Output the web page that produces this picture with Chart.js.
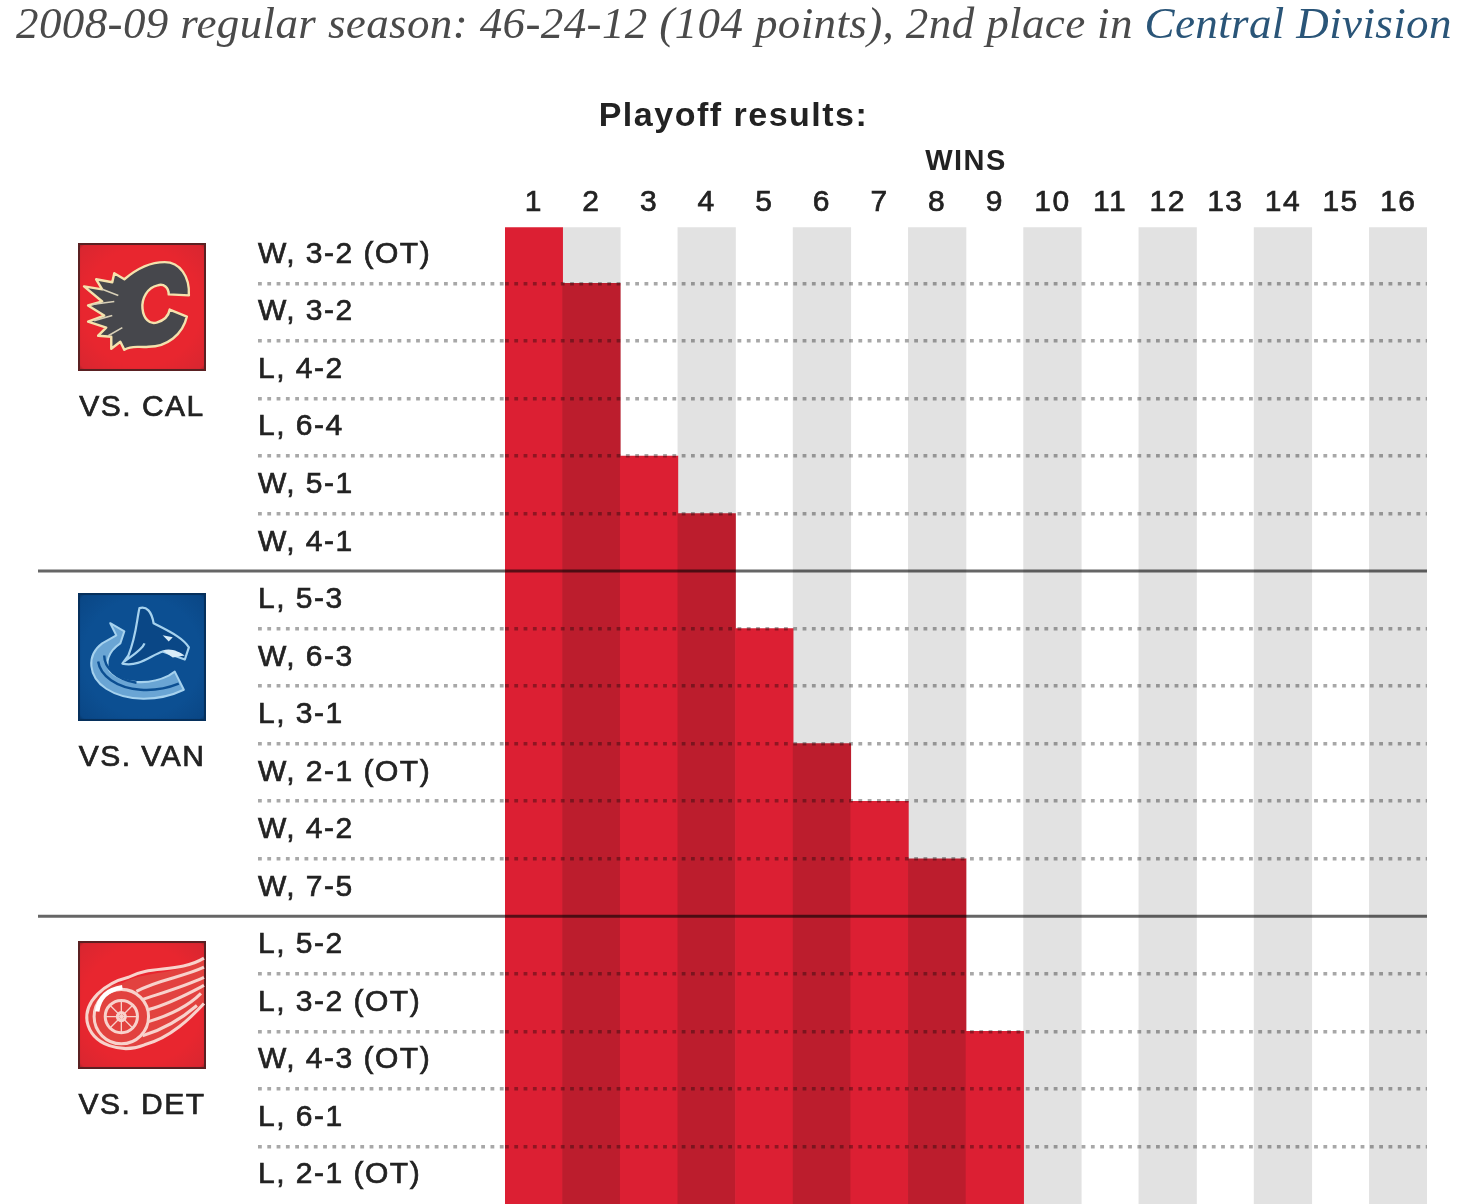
<!DOCTYPE html>
<html><head><meta charset="utf-8">
<script src="https://cdn.jsdelivr.net/npm/chart.js@4"></script>
<style>
html,body{margin:0;padding:0;background:#fff;width:1460px;height:1204px;overflow:hidden}
#wrap{position:relative;width:1460px;height:1204px;overflow:hidden}
canvas{position:absolute;left:0;top:0}
#head{position:absolute;left:16px;top:-3px;white-space:nowrap;font:italic 45px "Liberation Serif",serif;color:#4a4a4a;letter-spacing:.38px;line-height:52px}
#head span{color:#2a5578}
.vs{position:absolute;left:42px;width:200px;text-align:center;font:30px "Liberation Sans",Arial,sans-serif;color:#222;letter-spacing:1.5px;line-height:34px;-webkit-text-stroke:.7px #222}
svg.logo{position:absolute;left:78px;width:128px;height:128px;filter:blur(.6px)}
</style></head>
<body><div id="wrap">
<canvas id="c" width="1460" height="1204"></canvas>
<div id="head">2008-09 regular season: 46-24-12 (104 points), 2nd place in <span>Central Division</span></div>

<svg class="logo" style="top:243px" viewBox="0 0 127 127">
<defs><radialGradient id="gr" cx=".5" cy=".5" r=".72"><stop offset=".65" stop-color="#e8262f"/><stop offset=".93" stop-color="#d92630"/><stop offset="1" stop-color="#8c1c20"/></radialGradient>
<radialGradient id="gb" cx=".5" cy=".5" r=".72"><stop offset=".65" stop-color="#0c4f92"/><stop offset=".93" stop-color="#0a4786"/><stop offset="1" stop-color="#062c55"/></radialGradient></defs>
<rect x="1" y="1" width="125" height="125" fill="url(#gr)" stroke="#5a2022" stroke-width="2"/>
<path d="M46 36C60 24 74 19 86 19C101 19 111 33 110 52L90 51C90 44 85 40 79 42C69 44 63 55 64 65C65 75 71 81 78 79C85 77 90 72 91 66L108 73C104 91 88 103 70 103C60 104 54 101 46 106L42 98L33 105L33 93L20 92L28 84L10 78L26 72L10 62L24 58L6 43L24 46L18 36L34 39L36 30Z" fill="#46474c" stroke="#f4e2ad" stroke-width="2.4" stroke-linejoin="round"/>
<path d="M14 61L36 58M16 77L34 72M24 46L40 52M30 92L44 84" stroke="#d8d0b8" stroke-width="1.6" fill="none"/>
</svg>

<svg class="logo" style="top:593px" viewBox="0 0 127 127">
<rect x="1" y="1" width="125" height="125" fill="url(#gb)" stroke="#06305c" stroke-width="2"/>
<path d="M32 30L46 38L42 50C30 58 26 70 32 78C44 90 70 92 90 82L96 78L105 96C80 108 48 108 28 95C10 83 8 62 24 50L38 42Z" fill="#6aa5d4" stroke="#a6d2ee" stroke-width="2" stroke-linejoin="round"/>
<path d="M20 68C22 82 38 94 62 96C76 97 90 94 100 90M26 62C26 74 38 86 58 89" fill="none" stroke="#0c4f92" stroke-width="2.4"/>
<path d="M46 68C54 62 64 56 66 50M50 62C58 42 58 28 61 15C68 13 73 18 75 30C90 38 104 44 110 54L106 66L84 58C72 62 60 74 44 70Z" fill="#0a4786" stroke="#a6d2ee" stroke-width="2.2" stroke-linejoin="round"/>
<path d="M84 42L94 44L90 48ZM84 57C92 54 100 58 106 62L94 64Z" fill="#d8ecf8"/>
</svg>

<svg class="logo" style="top:941px" viewBox="0 0 127 127">
<rect x="1" y="1" width="125" height="125" fill="url(#gr)" stroke="#5a2022" stroke-width="2"/>
<path d="M44 42C62 30 96 34 125 18V62C112 74 92 98 62 104C40 112 12 100 10 76C10 56 26 44 44 42Z" fill="#e2423f"/>
<g fill="none" stroke="#f8d2cc" stroke-width="3">
<path d="M125 17C100 32 72 24 50 36C26 42 6 60 9 80C14 104 44 112 66 103C92 96 112 76 125 62"/>
<circle cx="43" cy="75" r="27"/><circle cx="43" cy="75" r="16"/><circle cx="43" cy="75" r="4"/>
<path d="M58 50C80 38 104 36 125 26M64 58C88 50 108 44 125 36M70 68C92 62 110 52 125 44M70 80C90 74 110 64 122 52M64 94C84 88 104 76 118 64"/>
<path d="M43 59V91M27 75H59M32 64L54 86M54 64L32 86" stroke-width="1.3"/>
</g>
<path d="M19 70C21 56 30 48 44 46" fill="none" stroke="#fff" stroke-width="4.5"/>
</svg>

<div class="vs" style="top:389px">VS. CAL</div>
<div class="vs" style="top:739px">VS. VAN</div>
<div class="vs" style="top:1087px">VS. DET</div>
</div>
<script>
const wins = ['1','2','3','4','5','6','7','8','9','10','11','12','13','14','15','16'];
const games = ['W, 3-2 (OT)','W, 3-2','L, 4-2','L, 6-4','W, 5-1','W, 4-1','L, 5-3','W, 6-3','L, 3-1','W, 2-1 (OT)','W, 4-2','W, 7-5','L, 5-2','L, 3-2 (OT)','W, 4-3 (OT)','L, 6-1','L, 2-1 (OT)'];
// games already finished when each win (1, 2, 3, ...) was earned
const gamesBeforeWin = [0,1,4,5,7,9,10,11,14];
const stripedWins = ['2','4','6','8','10','12','14','16'];
const seriesBreaks = [6,12];
const gameCount = games.length;

const redOdd = '#dc1f33', redEven = '#bc1d2d', stripe = '#e2e2e2', ink = '#222';
const dotted = '#a8a8a8';
const sans = '"Liberation Sans",Arial,sans-serif';

const breakLines = {
  id:'breakLines',
  beforeDraw(c){ c.ctx.letterSpacing='1.5px'; },
  afterDatasetsDraw(c){ c.ctx.globalCompositeOperation='multiply'; },
  afterDraw(c){
    const y=c.scales.y, ctx=c.ctx;
    ctx.save(); ctx.strokeStyle='#666'; ctx.lineWidth=3;
    seriesBreaks.forEach(v=>{const p=y.getPixelForValue(v);ctx.beginPath();ctx.moveTo(38,p);ctx.lineTo(c.chartArea.right,p);ctx.stroke();});
    ctx.restore();
    ctx.globalCompositeOperation='source-over';
  }
};
const isInner = v => v>0 && v<gameCount && !seriesBreaks.includes(v);

new Chart(document.getElementById('c'),{
  type:'bar',
  plugins:[breakLines],
  data:{labels:wins,datasets:[
    {label:'Wins',grouped:false,order:1,yAxisID:'y',
     data:wins.map((w,i)=>i<gamesBeforeWin.length?[gamesBeforeWin[i],gameCount]:null),
     backgroundColor:wins.map((w,i)=>i%2?redEven:redOdd),
     categoryPercentage:1,barPercentage:1,borderWidth:0,borderSkipped:false},
    {label:'Stripe',grouped:false,order:2,yAxisID:'y',
     data:wins.map(w=>stripedWins.includes(w)?[0,gameCount]:null),
     backgroundColor:stripe,
     categoryPercentage:1,barPercentage:1,borderWidth:0,borderSkipped:false}
  ]},
  options:{
    responsive:false,animation:false,devicePixelRatio:1,
    layout:{autoPadding:false,padding:{left:40,right:33,top:96,bottom:0}},
    plugins:{
      legend:{display:false},tooltip:{enabled:false},
      title:{display:true,text:'Playoff results:',color:ink,padding:{top:0,bottom:8},
             font:{family:sans,size:34,weight:'bold'}}
    },
    scales:{
      x:{type:'category',position:'top',offset:true,
         grid:{display:false,drawTicks:false},border:{display:false},
         title:{display:true,text:'WINS',color:ink,padding:{top:0,bottom:0},
                font:{family:sans,size:29,weight:'bold'}},
         ticks:{autoSkip:false,maxRotation:0,padding:5,color:ink,textStrokeColor:ink,textStrokeWidth:.7,
                font:{family:sans,size:30}},
         afterFit(s){s.height=81;}},
      y:{type:'linear',position:'left',reverse:true,min:0,max:gameCount,weight:0,
         border:{display:false,dash:ctx=>[3.8,5.5]},
         ticks:{display:false,stepSize:1,autoSkip:false},
         grid:{z:1,drawTicks:true,tickLength:247,
               color:ctx=>isInner(ctx.tick.value)?dotted:'rgba(0,0,0,0)',
               tickColor:ctx=>isInner(ctx.tick.value)?dotted:'rgba(0,0,0,0)',
               lineWidth:3.6,tickWidth:3.6,tickBorderDash:[3.8,5.5]},
         afterFit(s){s.width=247;s.paddingTop=0;s.paddingBottom=0;}},
      rows:{type:'category',position:'left',labels:games,offset:true,weight:1,
         border:{display:false},grid:{display:false,drawTicks:false},
         ticks:{mirror:true,padding:0,autoSkip:false,color:ink,textStrokeColor:ink,textStrokeWidth:.7,
                font:{family:sans,size:30}},
         afterFit(s){s.width=218;s.paddingTop=0;s.paddingBottom=0;}}
    }
  }
});
</script>
</body></html>
